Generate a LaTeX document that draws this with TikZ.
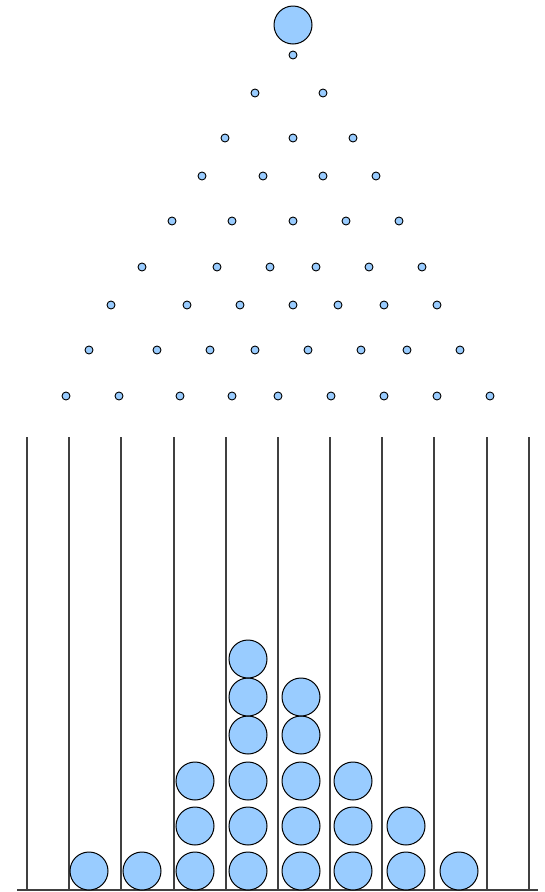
\documentclass[tikz,border=0pt]{standalone}
\usepackage{xcolor}
\usepackage{tikz}
\usetikzlibrary{positioning}

\definecolor{ballblue}{HTML}{99CCFF}

\begin{document}
\begin{tikzpicture}[
      x=1pt, y=-1pt,
      peg/.style={circle, draw=black, fill=ballblue, line width=0.9pt,
                  minimum size=8pt, inner sep=0pt},
      ball/.style={circle, draw=black, fill=ballblue, line width=1pt,
                   minimum size=38pt, inner sep=0pt},
      wall/.style={draw=black!75, line width=1.2pt}
    ]
    \useasboundingbox (0,0) rectangle (545,892);
    % falling ball
    \node[ball] (drop) at (293,25) {};
    % pegs, one row per line: y / list of x
    \foreach \py/\pxs [count=\r] in {
        55/{293},
        93/{255,323},
        138/{225,293,353},
        176/{202,263,323,376},
        221/{172,232,293,346,399},
        267/{142,217,270,316,369,422},
        305/{111,187,240,293,338,384,437},
        350/{89,157,210,255,308,361,407,460},
        396/{66,119,180,232,278,331,384,437,490}}
      \foreach \px [count=\c] in \pxs
        \node[peg] (peg-\r-\c) at (\px,\py) {};
    % bins
    \foreach \wx [count=\w] in {27,69,121,174,226,278,330,382,434,487,529}
      \coordinate (wall-\w) at (\wx,437);
    \coordinate (floor-l) at (17,890);
    \coordinate (floor-r) at (538,890);
    \foreach \w in {1,...,11}
      \draw[wall] (wall-\w) -- (wall-\w |- floor-l);
    \draw[wall] (floor-l) -- (floor-r);
    % collected balls: bin x / list of y
    \foreach \bx/\bys [count=\b] in {
        89/{871},
        142/{871},
        195/{871,826,781},
        248/{871,826,781,735,697,659},
        301/{871,826,781,735,697},
        353/{871,826,781},
        406/{871,826},
        459/{871}}
      \foreach \by [count=\k] in \bys
        \node[ball] (ball-\b-\k) at (\bx,\by) {};
  \end{tikzpicture}
\end{document}
